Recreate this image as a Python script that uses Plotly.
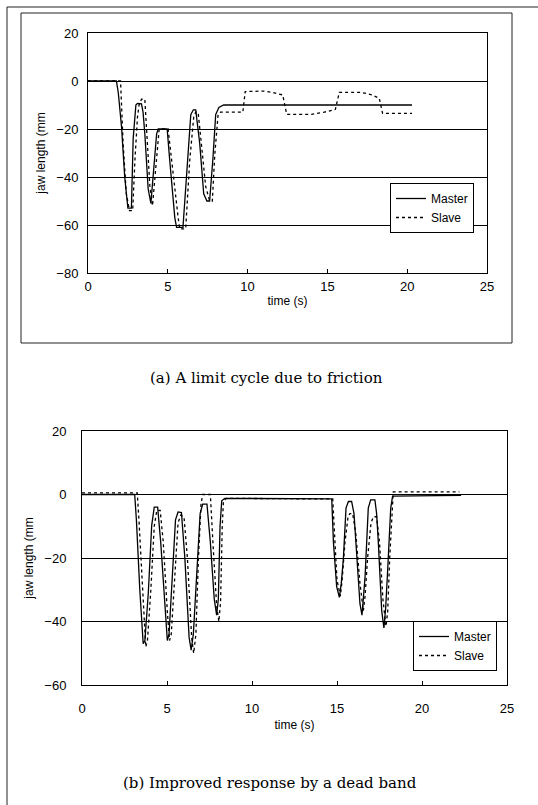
import plotly.graph_objects as go

W, H = 538, 805

# ---------------- data ----------------
top_master_t = [0, 1.78, 1.9, 2.1, 2.3, 2.5, 2.72, 2.83, 3.0, 3.1, 3.35, 3.45, 3.56, 3.77, 3.94, 4.12, 4.3, 4.4,
                4.96, 5.12, 5.44, 5.55, 5.95, 6.17, 6.44, 6.6, 6.75, 7.0, 7.25, 7.45, 7.62, 7.83, 8.0, 8.2, 8.5, 20.3]
top_master_v = [0, 0, -5, -19, -40, -53, -53, -24, -10, -9.3, -9.5, -13, -22, -45, -51, -35, -22, -20,
                -20, -33, -57, -61, -61, -40, -14, -12, -12, -26, -47, -50, -50, -32, -14, -11, -10, -10]

top_slave_t = [0, 2.04, 2.2, 2.4, 2.6, 2.8, 2.94, 3.1, 3.2, 3.35, 3.56, 3.67, 3.875, 4.04, 4.25, 4.46, 5.02,
               5.23, 5.65, 5.75, 6.12, 6.375, 6.625, 6.75, 6.9, 7.1, 7.375, 7.625, 7.79, 7.94, 8.15, 8.3,
               9.7, 9.85, 11.0, 11.6, 12.2, 12.45, 14.0, 14.8, 15.5, 15.75, 17.1, 17.8, 18.25, 18.46, 20.3]
top_slave_v = [0, 0, -26, -47, -54, -54, -33, -15, -10, -7.6, -7.6, -19, -43.6, -52, -35, -20, -20,
               -33, -57, -61.6, -61.6, -33, -15, -13, -13, -26, -44, -50, -50, -31, -14, -13,
               -13, -4.4, -4.2, -4.8, -5.8, -13.9, -13.9, -13, -11.8, -4.7, -4.7, -5.8, -7.2, -13.5, -13.5]

bot_master_t = [0, 3.1, 3.2, 3.4, 3.6, 3.7, 3.9, 4.1, 4.25, 4.45, 4.63, 4.88, 5.02, 5.12, 5.3, 5.5, 5.65, 5.85,
                6.05, 6.3, 6.42, 6.55, 6.75, 6.95, 7.1, 7.35, 7.55, 7.78, 7.92, 8.02, 8.12, 8.22, 8.4, 14.69,
                14.79, 14.98, 15.14, 15.25, 15.37, 15.53, 15.67, 15.86, 16.0, 16.12, 16.35, 16.47, 16.56, 16.65,
                16.84, 16.98, 17.23, 17.33, 17.43, 17.63, 17.76, 17.86, 17.96, 18.16, 18.27, 22.3]
bot_master_v = [0, 0, -8, -30, -47, -46, -31, -9.7, -4, -4, -15, -37, -46, -44, -25, -8, -5.5, -5.7,
                -20, -45, -49, -44, -25, -6, -3, -3, -15, -33, -38, -33, -10, -2, -1.2, -1.4,
                -15, -29, -32.4, -28, -20.6, -4.3, -2.2, -2.2, -6, -15, -34.4, -38, -33, -26,
                -4.3, -1.7, -1.7, -6, -15, -36.6, -42, -36, -26, -4.3, -0.5, -0.3]

bot_slave_t = [0, 3.25, 3.35, 3.55, 3.75, 3.85, 4.05, 4.25, 4.4, 4.6, 4.78, 5.02, 5.15, 5.25, 5.45, 5.65, 5.8,
               6.0, 6.2, 6.45, 6.57, 6.7, 6.85, 7.0, 7.1, 7.55, 7.7, 7.92, 8.05, 8.15, 8.25, 8.32, 8.5, 14.75,
               14.85, 15.0, 15.2, 15.3, 15.47, 15.65, 15.76, 15.92, 16.1, 16.35, 16.55, 16.65, 16.8, 17.0,
               17.14, 17.33, 17.5, 17.7, 17.88, 17.98, 18.1, 18.25, 18.31, 22.2]
bot_slave_v = [0.5, 0.5, -8, -30, -48, -46, -30, -10, -5, -5, -15, -37, -46, -44, -25, -9, -6.5,
               -7, -20, -45, -50, -44, -20, -3, 0, 0, -15, -35, -40, -34, -10, -2, -1.2, -1.4,
               -12, -27, -32, -27, -15, -7, -6, -6, -12, -28, -36.6, -32, -20, -9,
               -7, -7, -15, -33, -41.5, -37, -20, -3, 0.8, 0.8]

x_ticks = [0, 5, 10, 15, 20, 25]
top_y_ticks = [20, 0, -20, -40, -60, -80]
bot_y_ticks = [20, 0, -20, -40, -60]

series_names = ["Master", "Slave"]
y_title = "jaw length (mm"
x_title = "time (s)"
caption_a = "(a) A limit cycle due to friction"
caption_b = "(b) Improved response by a dead band"

# ---------------- layout helpers ----------------
def px_x(p):
    return p / W

def px_y(p):
    return 1 - p / H

FONT = "Liberation Sans, Arial, sans-serif"

fig = go.Figure()

line_m = dict(color="black", width=1.3, dash="solid")
line_s = dict(color="black", width=1.3, dash="dot")

fig.add_trace(go.Scatter(x=top_master_t, y=top_master_v, mode="lines", line=line_m,
                         name=series_names[0], xaxis="x", yaxis="y", legend="legend"))
fig.add_trace(go.Scatter(x=top_slave_t, y=top_slave_v, mode="lines", line=line_s,
                         name=series_names[1], xaxis="x", yaxis="y", legend="legend"))
fig.add_trace(go.Scatter(x=bot_master_t, y=bot_master_v, mode="lines", line=line_m,
                         name=series_names[0], xaxis="x2", yaxis="y2", legend="legend2"))
fig.add_trace(go.Scatter(x=bot_slave_t, y=bot_slave_v, mode="lines", line=line_s,
                         name=series_names[1], xaxis="x2", yaxis="y2", legend="legend2"))

axis_common = dict(showline=True, linecolor="black", linewidth=1, mirror=True,
                   zeroline=False, tickfont=dict(family=FONT, size=13, color="black"),
                   automargin=False, fixedrange=True)

fig.update_layout(
    width=W, height=H,
    margin=dict(l=0, r=0, t=0, b=0),
    paper_bgcolor="white", plot_bgcolor="white",
    font=dict(family=FONT, color="black"),
    xaxis=dict(domain=[px_x(88), px_x(487)], range=[0, 25], tickvals=x_ticks,
               ticks="inside", ticklen=4, tickcolor="black", showgrid=False, anchor="y",
               ticklabelstandoff=1,
               title=dict(text=x_title, font=dict(family=FONT, size=12), standoff=4),
               **axis_common),
    yaxis=dict(domain=[px_y(273), px_y(33)], range=[-80, 20], tickvals=top_y_ticks,
               showgrid=True, gridcolor="black", gridwidth=1, ticks="", anchor="x",
               ticklabelstandoff=6,
               title=dict(text=y_title, font=dict(family=FONT, size=12), standoff=8),
               **axis_common),
    xaxis2=dict(domain=[px_x(82), px_x(507)], range=[0, 25], tickvals=x_ticks,
                ticks="inside", ticklen=4, tickcolor="black", showgrid=False, anchor="y2",
                ticklabelstandoff=11,
                title=dict(text=x_title, font=dict(family=FONT, size=12), standoff=6),
                **axis_common),
    yaxis2=dict(domain=[px_y(685), px_y(431)], range=[-60, 20], tickvals=bot_y_ticks,
                showgrid=True, gridcolor="black", gridwidth=1, ticks="", anchor="x2",
                ticklabelstandoff=12,
                title=dict(text=y_title, font=dict(family=FONT, size=12), standoff=8),
                **axis_common),
    legend=dict(x=px_x(474), y=px_y(183), xanchor="right", yanchor="top",
                bgcolor="white", bordercolor="black", borderwidth=1,
                font=dict(family=FONT, size=12), itemwidth=30, tracegroupgap=0),
    legend2=dict(x=px_x(497), y=px_y(621), xanchor="right", yanchor="top",
                 bgcolor="white", bordercolor="black", borderwidth=1,
                 font=dict(family=FONT, size=12), itemwidth=30, tracegroupgap=0),
    showlegend=True,
)

# frame of the upper chart area and page border lines
fig.add_shape(type="rect", xref="paper", yref="paper",
              x0=px_x(21), x1=px_x(512), y0=px_y(343), y1=px_y(13),
              line=dict(color="#222", width=1))
fig.add_shape(type="line", xref="paper", yref="paper",
              x0=px_x(7), x1=px_x(7), y0=0, y1=px_y(7),
              line=dict(color="#222", width=1))
fig.add_shape(type="line", xref="paper", yref="paper",
              x0=px_x(7), x1=1, y0=px_y(7), y1=px_y(7),
              line=dict(color="#222", width=1))

CAP_FONT = dict(family="DejaVu Serif, serif", size=15, color="black")
fig.add_annotation(text=caption_a, xref="paper", yref="paper", x=px_x(266), y=px_y(378),
                   showarrow=False, font=CAP_FONT, xanchor="center", yanchor="middle")
fig.add_annotation(text=caption_b, xref="paper", yref="paper", x=px_x(270), y=px_y(783),
                   showarrow=False, font=CAP_FONT, xanchor="center", yanchor="middle")

fig.write_html("out.html")
